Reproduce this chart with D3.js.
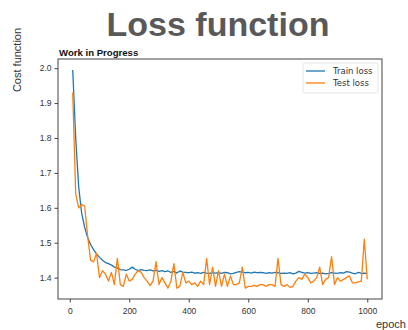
<!DOCTYPE html>
<html>
<head>
<meta charset="utf-8">
<script src="https://cdn.jsdelivr.net/npm/d3@7"></script>
<style>
  body { margin: 0; background: #fff; }
</style>
</head>
<body>
<div id="chart"></div>
<script>
var epochs = d3.range(10, 1001, 10);

var trainLoss = [
  1.995, 1.80, 1.66, 1.585, 1.545, 1.515, 1.495, 1.48, 1.468, 1.458,
  1.45, 1.443, 1.44, 1.436, 1.43, 1.428, 1.423, 1.422, 1.421, 1.424,
  1.43, 1.424, 1.42, 1.423, 1.421, 1.42, 1.422, 1.419, 1.421, 1.418,
  1.42, 1.417, 1.419, 1.415, 1.418, 1.413, 1.419, 1.416, 1.415, 1.414,
  1.416, 1.413, 1.414, 1.412, 1.415, 1.413, 1.412, 1.414, 1.413, 1.414,
  1.412, 1.415, 1.414, 1.411, 1.412, 1.415, 1.417, 1.416, 1.414, 1.415,
  1.413, 1.416, 1.414, 1.415, 1.414, 1.412, 1.414, 1.413, 1.415, 1.414,
  1.412, 1.413, 1.412, 1.414, 1.411, 1.413, 1.418, 1.415, 1.413, 1.414,
  1.412, 1.413, 1.414, 1.412, 1.413, 1.411, 1.412, 1.414, 1.413, 1.412,
  1.414, 1.413, 1.417, 1.416, 1.413, 1.411, 1.415, 1.412, 1.413, 1.412
];

var testLoss = [
  1.93, 1.64, 1.60, 1.61, 1.605, 1.52, 1.45, 1.445, 1.47, 1.40,
  1.42, 1.41, 1.39, 1.415, 1.38, 1.455, 1.38, 1.375, 1.41, 1.39,
  1.395, 1.41, 1.42, 1.415, 1.40, 1.39, 1.377, 1.39, 1.446, 1.38,
  1.40, 1.385, 1.37, 1.39, 1.44, 1.37, 1.375, 1.415, 1.385, 1.39,
  1.38, 1.385, 1.375, 1.39, 1.38, 1.455, 1.38, 1.43, 1.375, 1.42,
  1.375, 1.41, 1.375, 1.405, 1.38, 1.38, 1.385, 1.43, 1.37, 1.375,
  1.375, 1.378, 1.375, 1.38, 1.38, 1.375, 1.38, 1.38, 1.375, 1.455,
  1.38, 1.375, 1.38, 1.372, 1.375, 1.39, 1.40, 1.395, 1.41, 1.40,
  1.385, 1.39, 1.40, 1.43, 1.38, 1.395, 1.40, 1.46, 1.38, 1.40,
  1.39, 1.395, 1.40, 1.405, 1.385, 1.385, 1.388, 1.39, 1.51, 1.395
];

var seriesNames = ["Train loss", "Test loss"];
var seriesColors = ["#1f77b4", "#ff7f0e"];
var xTicks = [0, 200, 400, 600, 800, 1000];
var yTicks = [1.4, 1.5, 1.6, 1.7, 1.8, 1.9, 2.0];

var width = 408, height = 330;
var plotL = 58, plotR = 382, plotT = 59, plotB = 299;

var svg = d3.select("#chart")
    .append("svg")
    .attr("width", width)
    .attr("height", height)
    .attr("font-family", "DejaVu Sans, sans-serif");

// matplotlib style 5% padding around the data
function padded(ext){
    var m = (ext[1] - ext[0]) * 0.05;
    return [ext[0] - m, ext[1] + m];
}
var x = d3.scaleLinear()
    .domain(padded(d3.extent(epochs)))
    .range([plotL, plotR]);
var y = d3.scaleLinear()
    .domain(padded(d3.extent(trainLoss.concat(testLoss))))
    .range([plotB, plotT]);

// title
svg.append("text")
    .attr("x", 218)
    .attr("y", 36)
    .attr("text-anchor", "middle")
    .attr("font-family", "Liberation Sans, Arial, sans-serif")
    .attr("font-weight", "bold")
    .attr("font-size", 34)
    .attr("fill", "#595959")
    .text("Loss function");

svg.append("text")
    .attr("x", 59)
    .attr("y", 56)
    .attr("font-family", "Liberation Sans, Arial, sans-serif")
    .attr("font-weight", "bold")
    .attr("font-size", 9.6)
    .attr("fill", "#111")
    .text("Work in Progress");

svg.append("text")
    .attr("transform", "translate(21,60)rotate(-90)")
    .attr("text-anchor", "middle")
    .attr("font-family", "Liberation Sans, Arial, sans-serif")
    .attr("font-size", 11)
    .attr("fill", "#333")
    .text("Cost function");

svg.append("text")
    .attr("x", 376)
    .attr("y", 328)
    .attr("font-family", "Liberation Sans, Arial, sans-serif")
    .attr("font-size", 11)
    .attr("fill", "#333")
    .text("epoch");

// axes
var xAxis = svg.append("g")
    .attr("transform", "translate(0," + plotB + ")")
    .call(d3.axisBottom(x).tickValues(xTicks).tickSize(3.5).tickSizeOuter(0).tickFormat(d3.format("d")));
var yAxis = svg.append("g")
    .attr("transform", "translate(" + plotL + ",0)")
    .call(d3.axisLeft(y).tickValues(yTicks).tickSize(3.5).tickSizeOuter(0).tickFormat(d3.format(".1f")));
[xAxis, yAxis].forEach(function(g){
    g.select(".domain").remove();
    g.selectAll("line").attr("stroke", "#444");
    g.selectAll("text")
        .attr("font-size", 8.5)
        .attr("fill", "#333");
});
xAxis.selectAll("text").attr("dy", "1.05em");

// lines
var line = d3.line()
    .x(function(d){ return x(d[0]); })
    .y(function(d){ return y(d[1]); });

[trainLoss, testLoss].forEach(function(vals, i){
    svg.append("path")
        .datum(epochs.map(function(e, j){ return [e, vals[j]]; }))
        .attr("fill", "none")
        .attr("stroke", seriesColors[i])
        .attr("stroke-width", 1.3)
        .attr("stroke-linejoin", "round")
        .attr("d", line);
});

// frame
svg.append("rect")
    .attr("x", plotL)
    .attr("y", plotT)
    .attr("width", plotR - plotL)
    .attr("height", plotB - plotT)
    .attr("fill", "none")
    .attr("stroke", "#444")
    .attr("stroke-width", 1);

// legend
var legend = svg.append("g").attr("transform", "translate(303,63)");
legend.append("rect")
    .attr("width", 75)
    .attr("height", 30)
    .attr("rx", 2)
    .attr("fill", "#fff")
    .attr("stroke", "#ddd")
    .attr("stroke-width", 0.8);
seriesNames.forEach(function(name, i){
    var row = legend.append("g").attr("transform", "translate(0," + (8 + i * 12) + ")");
    row.append("line")
        .attr("x1", 3)
        .attr("x2", 22)
        .attr("stroke", seriesColors[i])
        .attr("stroke-width", 1.3);
    row.append("text")
        .attr("x", 30)
        .attr("dy", "0.35em")
        .attr("font-size", 8.5)
        .attr("fill", "#333")
        .text(name);
});
</script>
</body>
</html>
